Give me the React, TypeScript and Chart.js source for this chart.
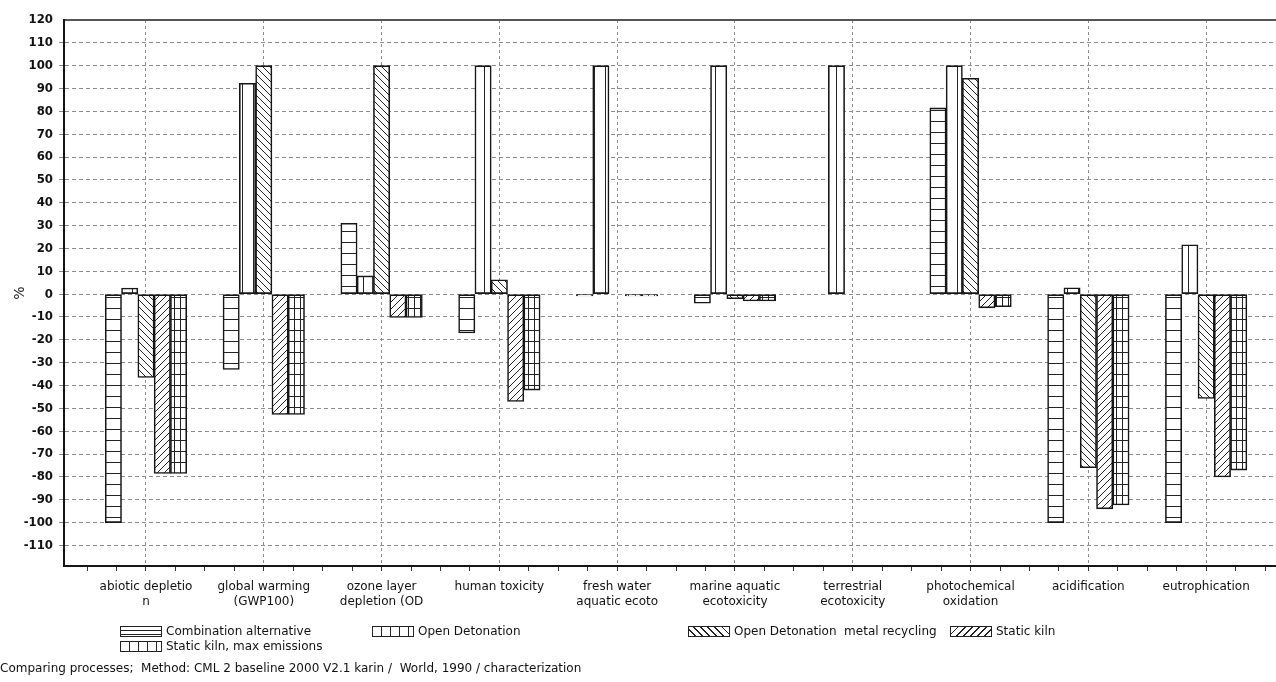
import React, { useEffect, useRef } from 'react';
import { Chart, registerables } from 'chart.js';

Chart.register(...registerables);

// ---------- data ----------
const categories: (string | string[])[] = [
  ['abiotic depletio', 'n'],
  ['global warming', '(GWP100)'],
  ['ozone layer', 'depletion (OD'],
  'human toxicity',
  ['fresh water', 'aquatic ecoto'],
  ['marine aquatic', 'ecotoxicity'],
  ['terrestrial', 'ecotoxicity'],
  ['photochemical', 'oxidation'],
  'acidification',
  'eutrophication',
];

const seriesNames = [
  'Combination alternative',
  'Open Detonation',
  'Open Detonation  metal recycling',
  'Static kiln',
  'Static kiln, max emissions',
];

const combinationAlternative = [-100, -33, 31, -17, -0.8, -4, 0, 81.5, -100, -100];
const openDetonation = [2.7, 92.3, 8, 100, 100, 100, 100, 100, 2.8, 21.6];
const openDetonationMetalRecycling = [-36.5, 100, 100, 6.3, 0, -2, 0, 94.5, -76, -45.7];
const staticKiln = [-78.5, -52.7, -10.2, -47, -0.8, -3, 0, -6, -94, -80];
const staticKilnMaxEmissions = [-78.5, -52.7, -10.2, -42, -0.8, -3, 0, -5.5, -92.3, -77];

const yTickValues = [120, 110, 100, 90, 80, 70, 60, 50, 40, 30, 20, 10, 0, -10, -20, -30, -40, -50, -60, -70, -80, -90, -100, -110];

const footerText = 'Comparing processes;  Method: CML 2 baseline 2000 V2.1 karin /  World, 1990 / characterization';

// ---------- style ----------
const FONT = "'DejaVu Sans', sans-serif";
const YFONT = "'DejaVu Sans Condensed', 'DejaVu Sans', sans-serif";
const INK = '#161616';
const GRID = '#8c8c8c';

type Hatch = 'h' | 'v' | 'bs' | 'fs' | 'grid';
const hatches: Hatch[] = ['h', 'v', 'bs', 'fs', 'grid'];

function makePattern(ctx: CanvasRenderingContext2D, kind: Hatch): CanvasPattern {
  const c = document.createElement('canvas');
  let w = 8;
  let h = 8;
  if (kind === 'h') { w = 8; h = 11; }
  if (kind === 'v') { w = 11; h = 8; }
  if (kind === 'bs' || kind === 'fs') { w = 7; h = 7; }
  if (kind === 'grid') { w = 6; h = 11; }
  c.width = w;
  c.height = h;
  const g = c.getContext('2d')!;
  g.fillStyle = '#ffffff';
  g.fillRect(0, 0, w, h);
  g.strokeStyle = '#222';
  g.lineWidth = 1;
  g.beginPath();
  if (kind === 'h') {
    g.moveTo(0, 0.5); g.lineTo(w, 0.5);
  } else if (kind === 'v') {
    g.moveTo(0.5, 0); g.lineTo(0.5, h);
  } else if (kind === 'grid') {
    g.moveTo(0.5, 0); g.lineTo(0.5, h);
    g.moveTo(0, 0.5); g.lineTo(w, 0.5);
  } else if (kind === 'bs') {
    for (let k = -1; k <= 1; k++) { g.moveTo(k * w, 0); g.lineTo(k * w + w, h); }
  } else {
    for (let k = -1; k <= 1; k++) { g.moveTo(k * w, h); g.lineTo(k * w + w, 0); }
  }
  g.stroke();
  return ctx.createPattern(c, 'repeat') as CanvasPattern;
}

const swatchBg: Record<Hatch, string> = {
  h: 'repeating-linear-gradient(to bottom, #fff 0px, #fff 3px, #222 3px, #222 4px)',
  v: 'repeating-linear-gradient(to right, #fff 0px, #fff 8px, #222 8px, #222 9px)',
  bs: 'repeating-linear-gradient(45deg, #fff 0px, #fff 4px, #222 4px, #222 5px)',
  fs: 'repeating-linear-gradient(-45deg, #fff 0px, #fff 4px, #222 4px, #222 5px)',
  grid: 'repeating-linear-gradient(to right, #fff 0px, #fff 8px, #222 8px, #222 9px), linear-gradient(to bottom, transparent 0px, transparent 4px, #222 4px, #222 5px, transparent 5px)',
};

// legend layout (left of swatch, row)
const legendItems: { idx: number; x: number; row: number }[] = [
  { idx: 0, x: 120, row: 0 },
  { idx: 1, x: 372, row: 0 },
  { idx: 2, x: 688, row: 0 },
  { idx: 3, x: 950, row: 0 },
  { idx: 4, x: 120, row: 1 },
];

export default function App() {
  const canvasRef = useRef<HTMLCanvasElement | null>(null);

  useEffect(() => {
    const canvas = canvasRef.current;
    if (!canvas) return;
    const ctx = canvas.getContext('2d')!;
    const seriesValues = [
      combinationAlternative,
      openDetonation,
      openDetonationMetalRecycling,
      staticKiln,
      staticKilnMaxEmissions,
    ];
    const xTickValues: number[] = [];
    for (let v = -0.5; v <= categories.length - 0.5 + 1e-9; v += 0.25) xTickValues.push(v);

    const chart = new Chart(ctx, {
      type: 'bar',
      data: {
        datasets: seriesValues.map((vals, i) => ({
          label: seriesNames[i],
          data: vals.map((v, j) => ({ x: j, y: v })),
          backgroundColor: makePattern(ctx, hatches[i]),
          borderColor: INK,
          borderWidth: 1.6,
          borderSkipped: false,
          barThickness: 16.3,
        })),
      } as any,
      options: {
        animation: false,
        responsive: false,
        maintainAspectRatio: false,
        devicePixelRatio: 1,
        layout: { padding: { top: 20, right: 0, bottom: 0, left: 0 } },
        plugins: { legend: { display: false }, tooltip: { enabled: false } },
        scales: {
          x: {
            type: 'linear',
            min: -0.696,
            max: 9.593,
            offset: false,
            afterBuildTicks: (s: any) => { s.ticks = xTickValues.map((v) => ({ value: v })); },
            afterFit: (s: any) => { s.height = 116; },
            ticks: {
              autoSkip: false,
              maxRotation: 0,
              minRotation: 0,
              padding: 8,
              color: '#111',
              font: { family: FONT, size: 12, lineHeight: '15px' },
              callback: (v: any) => {
                const n = Number(v);
                return Number.isInteger(n) && n >= 0 && n < categories.length ? categories[n] : '';
              },
            },
            grid: {
              offset: false,
              drawOnChartArea: true,
              color: (c: any) => (c.tick && Number.isInteger(c.tick.value) ? GRID : 'rgba(0,0,0,0)'),
              tickColor: '#333',
              tickLength: 5,
              lineWidth: 1,
            },
            border: { display: true, color: INK, width: 2, dash: [3, 3] },
          },
          y: {
            min: -119,
            max: 120,
            afterBuildTicks: (s: any) => { s.ticks = yTickValues.map((v) => ({ value: v })); },
            afterFit: (s: any) => { s.width = 64; },
            ticks: {
              padding: 6,
              color: '#111',
              font: { family: YFONT, size: 13, weight: 'bold' },
              callback: (v: any) => String(v),
            },
            grid: {
              color: (c: any) => (c.tick && c.tick.value === 120 ? '#555' : GRID),
              lineWidth: (c: any) => (c.tick && c.tick.value === 120 ? 2 : 1),
              tickColor: (c: any) => (c.tick && c.tick.value === 120 ? 'rgba(0,0,0,0)' : GRID),
              tickLength: 5,
            },
            border: {
              display: true,
              color: INK,
              width: 2,
              dash: (c: any) => (c.tick && c.tick.value === 120 ? [] : [4, 3]),
            },
            title: {
              display: true,
              text: '%',
              color: '#222',
              font: { family: FONT, size: 14 },
              padding: { top: 12, bottom: 0 },
            },
          },
        },
      } as any,
    });
    return () => chart.destroy();
  }, []);

  return (
    <div style={{ position: 'absolute', left: 0, top: 0, width: 1276, height: 682, background: '#fff', overflow: 'hidden' }}>
      <canvas ref={canvasRef} width={1276} height={682} style={{ position: 'absolute', left: 0, top: 0, width: 1276, height: 682 }} />
      {legendItems.map((it) => {
        const cy = 631 + it.row * 15;
        return (
          <React.Fragment key={it.idx}>
            <div
              style={{
                position: 'absolute',
                left: it.x,
                top: cy - 5.5,
                width: 42,
                height: 11,
                boxSizing: 'border-box',
                border: '1px solid #222',
                background: swatchBg[hatches[it.idx]],
              }}
            />
            <div
              style={{
                position: 'absolute',
                left: it.x + 46,
                top: cy - 7,
                height: 14,
                lineHeight: '14px',
                fontFamily: FONT,
                fontSize: 12,
                color: '#111',
                whiteSpace: 'pre',
              }}
            >
              {seriesNames[it.idx]}
            </div>
          </React.Fragment>
        );
      })}
      <div
        style={{
          position: 'absolute',
          left: 0,
          top: 661,
          lineHeight: '14px',
          fontFamily: FONT,
          fontSize: 12,
          color: '#111',
          whiteSpace: 'pre',
        }}
      >
        {footerText}
      </div>
    </div>
  );
}
